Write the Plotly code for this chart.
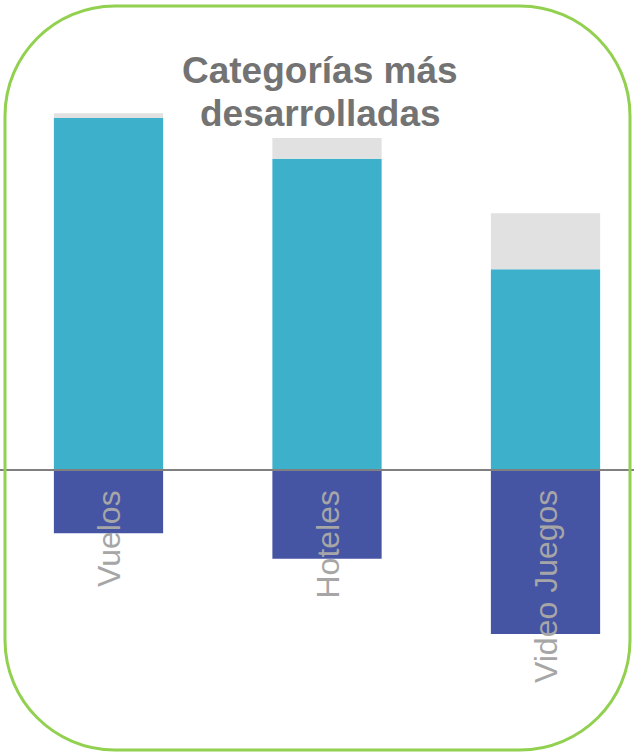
import plotly.graph_objects as go

categories = ["Vuelos", "Hoteles", "Video Juegos"]
desarrollada = [88.0, 77.8, 50.2]
resto = [1.2, 5.2, 14.0]
negativo = [-15.8, -22.2, -41.0]
title_lines = ["Categorías más", "desarrolladas"]

W, H = 634, 753
xidx = list(range(len(categories)))

fig = go.Figure()
fig.add_bar(x=xidx, y=desarrollada, marker_color="#3DB0CC", width=0.5,
            marker_line_width=0, hoverinfo="skip")
fig.add_bar(x=xidx, y=resto, marker_color="#E1E1E1", width=0.5,
            marker_line_width=0, hoverinfo="skip")
fig.add_bar(x=xidx, y=negativo, marker_color="#4654A4", width=0.5,
            marker_line_width=0, hoverinfo="skip")

# zero line across full width
fig.add_shape(type="line", xref="paper", yref="y", x0=0, x1=1, y0=0, y1=0,
              line=dict(color="#808080", width=2))

# rounded border (pixel coords -> paper)
def px(x):
    return x / W
def py(y):
    return 1 - y / H
L, R, T, B, r = 5, 630, 6, 750, 110
k = 0.5523 * r
path = (
    f"M {px(L + r)},{py(T)} L {px(R - r)},{py(T)} "
    f"C {px(R - r + k)},{py(T)} {px(R)},{py(T + r - k)} {px(R)},{py(T + r)} "
    f"L {px(R)},{py(B - r)} "
    f"C {px(R)},{py(B - r + k)} {px(R - r + k)},{py(B)} {px(R - r)},{py(B)} "
    f"L {px(L + r)},{py(B)} "
    f"C {px(L + r - k)},{py(B)} {px(L)},{py(B - r + k)} {px(L)},{py(B - r)} "
    f"L {px(L)},{py(T + r)} "
    f"C {px(L)},{py(T + r - k)} {px(L + r - k)},{py(T)} {px(L + r)},{py(T)} Z"
)
fig.add_shape(type="path", xref="paper", yref="paper", path=path,
              line=dict(color="#92D050", width=3), fillcolor="rgba(0,0,0,0)")

# category labels (rotated)
for i, c in enumerate(categories):
    fig.add_annotation(x=i, y=0, xref="x", yref="y", text=c, textangle=-90,
                       showarrow=False, yanchor="top", xanchor="center",
                       yshift=-18,
                       font=dict(family="Liberation Sans, Arial", size=32,
                                 color="#A6A6A6"))

# title
for j, (t, ypix) in enumerate(zip(title_lines, [70, 114])):
    fig.add_annotation(x=320 / W, y=py(ypix), xref="paper", yref="paper",
                       text=f"<b>{t}</b>", showarrow=False,
                       xanchor="center", yanchor="middle",
                       font=dict(family="Liberation Sans, Arial", size=37,
                                 color="#737373"))

fig.update_layout(
    width=W, height=H, margin=dict(l=0, r=0, t=0, b=0),
    barmode="relative", showlegend=False,
    paper_bgcolor="white", plot_bgcolor="white",
    xaxis=dict(range=[-0.4966, 2.405], visible=False, fixedrange=True),
    yaxis=dict(range=[-70.75, 117.5], visible=False, fixedrange=True),
)

fig.write_html("out.html")
